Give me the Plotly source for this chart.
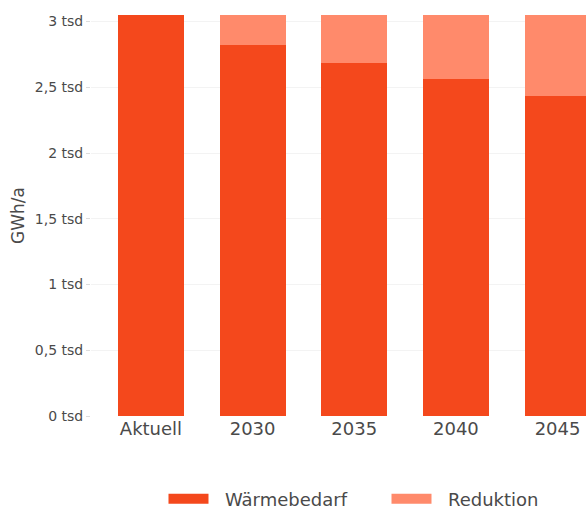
import plotly.graph_objects as go

categories = ["Aktuell", "2030", "2035", "2040", "2045"]
waermebedarf = [3050, 2820, 2686, 2564, 2437]
reduktion = [0, 230, 364, 486, 613]
series_names = ["Wärmebedarf", "Reduktion"]
series_colors = ["#F4481C", "#FF8A6B"]
y_tickvals = [0, 500, 1000, 1500, 2000, 2500, 3000]
y_ticktext = ["0 tsd", "0,5 tsd", "1 tsd", "1,5 tsd", "2 tsd", "2,5 tsd", "3 tsd"]

FONT = "DejaVu Sans"
TXT = "#4a4a4a"
PAD = "\u00a0\u00a0"
fig = go.Figure()
for vals, name, col in zip([waermebedarf, reduktion], series_names, series_colors):
    fig.add_trace(go.Bar(x=categories, y=vals, name=name, showlegend=False,
                         legendgroup=name, marker=dict(color=col, line=dict(width=0))))
# legend entries drawn as wide swatches
for name, col in zip(series_names, series_colors):
    fig.add_trace(go.Scatter(x=[None], y=[None], mode="lines", name=PAD + name,
                             legendgroup=name, line=dict(color=col, width=12)))

fig.update_layout(
    width=586, height=511,
    barmode="stack", bargap=0.35,
    plot_bgcolor="white", paper_bgcolor="white",
    margin=dict(l=91, r=0, t=15, b=95),
    font=dict(family=FONT, color=TXT),
    showlegend=True,
    legend=dict(orientation="h", xref="container", x=0.279, xanchor="left",
                yref="container", y=0.0235, yanchor="middle",
                font=dict(size=18, color=TXT), traceorder="normal",
                itemwidth=40, entrywidth=168),
    xaxis=dict(range=[-0.59, 4.28], showgrid=False, showline=False, zeroline=False,
               tickfont=dict(size=18, color=TXT), ticks=""),
    yaxis=dict(range=[0, 3050], tickvals=y_tickvals, ticktext=y_ticktext,
               showgrid=True, gridcolor="#F3F3F3", zeroline=False, showline=False,
               ticks="outside", ticklen=4, tickcolor="#DDD",
               tickfont=dict(size=14, color=TXT),
               title=dict(text="GWh/a", font=dict(size=17, color=TXT), standoff=5)),
)
fig.write_html("out.html", config={"displayModeBar": False},
               post_script="document.body.style.margin='0';")
